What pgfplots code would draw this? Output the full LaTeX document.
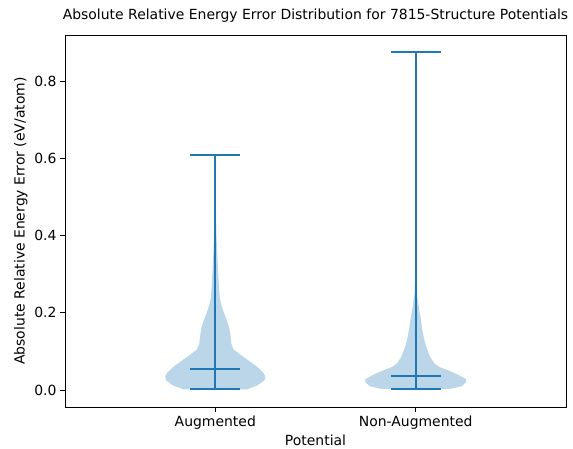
\documentclass[border=0pt]{standalone}
\usepackage{fontspec}
\setmainfont{DejaVu Sans}
\usepackage{pgfplots}
\usepackage{pgfplotstable}
\pgfplotsset{compat=1.18}
\definecolor{c0}{HTML}{1F77B4}

% violin half-widths (x units) against error value
\pgfplotstableread{
v w
0.002 0
0.002 0.16
0.012 0.21
0.025 0.245
0.035 0.25
0.045 0.24
0.060 0.21
0.075 0.17
0.090 0.13
0.105 0.092
0.120 0.080
0.140 0.076
0.160 0.070
0.180 0.058
0.200 0.043
0.220 0.030
0.240 0.022
0.270 0.018
0.300 0.015
0.350 0.010
0.400 0.006
0.450 0.004
0.500 0.002
0.550 0.001
0.609 0.001
0.609 0
}\aug

\pgfplotstableread{
v w
0.003 0
0.003 0.17
0.010 0.23
0.020 0.25
0.028 0.252
0.040 0.21
0.050 0.167
0.060 0.117
0.070 0.092
0.085 0.073
0.100 0.061
0.120 0.048
0.140 0.039
0.160 0.032
0.180 0.027
0.200 0.020
0.220 0.014
0.250 0.006
0.300 0.003
0.400 0.001
0.877 0.001
0.877 0
}\nonaug

\begin{document}
\begin{tikzpicture}
\begin{axis}[
    scale only axis,
    width=501bp, height=372bp,
    xmin=0.25, xmax=2.75,
    ymin=-0.0438, ymax=0.9198,
    xtick={1,2},
    xticklabels={Augmented,Non-Augmented},
    ytick={0,0.2,0.4,0.6,0.8},
    yticklabel style={/pgf/number format/.cd,fixed,fixed zerofill,precision=1},
    /pgf/number format/assume math mode=true,
    tick pos=left,
    tick align=outside,
    major tick length=5bp,
    every tick/.style={black, line width=0.8bp},
    axis line style={line width=0.8bp},
    font=\fontsize{14}{16}\selectfont,
    ticklabel style={font=\fontsize{14}{16}\selectfont},
    title={Absolute Relative Energy Error Distribution for 7815-Structure Potentials},
    title style={at={(0.5,1)}, anchor=base, yshift=10bp},
    xlabel={Potential},
    xlabel style={yshift=-0.5bp, inner sep=2bp},
    ylabel={Absolute Relative Energy Error (eV/atom)},
]
% violin bodies
\addplot[draw=none, fill=c0, fill opacity=0.3] table[x expr=1+\thisrow{w}, y=v] {\aug};
\addplot[draw=none, fill=c0, fill opacity=0.3] table[x expr=1-\thisrow{w}, y=v] {\aug};
\addplot[draw=none, fill=c0, fill opacity=0.3] table[x expr=2+\thisrow{w}, y=v] {\nonaug};
\addplot[draw=none, fill=c0, fill opacity=0.3] table[x expr=2-\thisrow{w}, y=v] {\nonaug};

% bars, caps, medians
\addplot[c0, line width=2bp] coordinates {(1,0.002) (1,0.609)};
\addplot[c0, line width=2bp] coordinates {(0.875,0.609) (1.125,0.609)};
\addplot[c0, line width=2bp] coordinates {(0.875,0.002) (1.125,0.002)};
\addplot[c0, line width=2bp] coordinates {(0.875,0.054) (1.125,0.054)};

\addplot[c0, line width=2bp] coordinates {(2,0.003) (2,0.877)};
\addplot[c0, line width=2bp] coordinates {(1.875,0.877) (2.125,0.877)};
\addplot[c0, line width=2bp] coordinates {(1.875,0.003) (2.125,0.003)};
\addplot[c0, line width=2bp] coordinates {(1.875,0.037) (2.125,0.037)};
\end{axis}
\pgfresetboundingbox
\path[use as bounding box] ([shift={(-65bp,-42bp)}]current axis.south west) rectangle ([shift={(7bp,35bp)}]current axis.north east);
\end{tikzpicture}
\end{document}
